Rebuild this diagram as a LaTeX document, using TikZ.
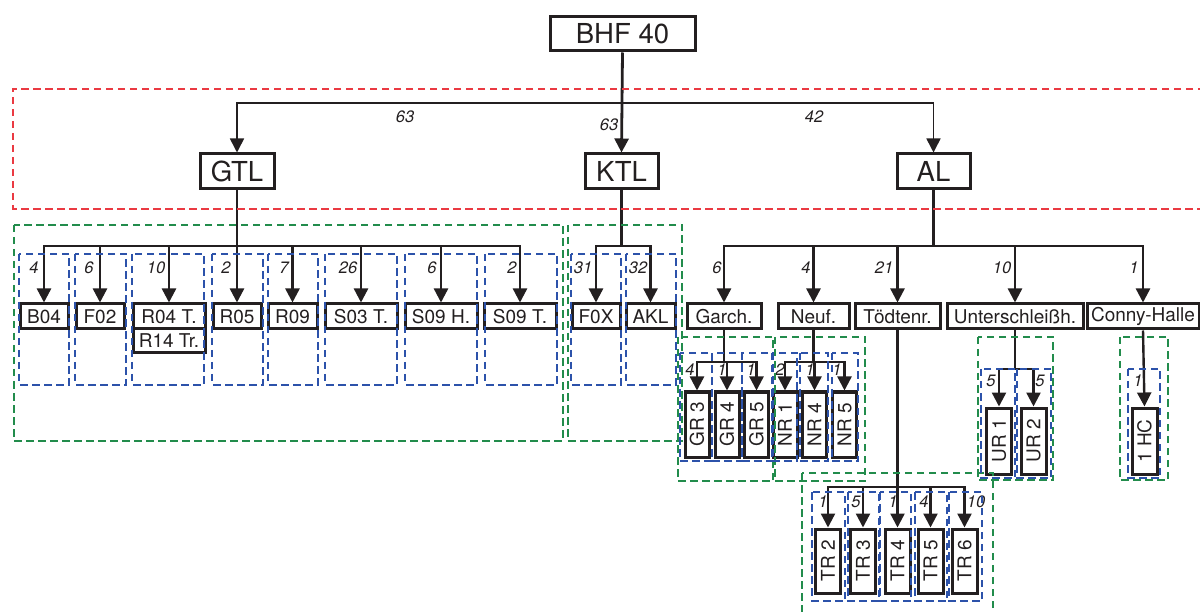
\documentclass[tikz,border=0pt]{standalone}
\usepackage{fontspec}
\setmainfont{TeX Gyre Heros}
\usepackage{graphicx}
\usetikzlibrary{arrows.meta}
\definecolor{ink}{RGB}{35,31,32}
\definecolor{dred}{RGB}{234,58,66}
\definecolor{dgreen}{RGB}{34,140,76}
\definecolor{dblue}{RGB}{44,82,170}
\tikzset{
  box/.style={draw=ink, line width=3pt, inner sep=0pt, text=ink, font=\fontsize{19}{21}\selectfont},
  bigbox/.style={box, font=\fontsize{27.5}{30}\selectfont},
  ln/.style={draw=ink, line width=2.4pt},
  arr/.style={ln, -{Triangle[width=14pt,length=14pt]}},
  arrthin/.style={draw=ink, line width=1.6pt, -{Triangle[width=14pt,length=14pt]}},
  lab/.style={font=\fontsize{16.5}{18}\selectfont\itshape, text=ink, inner sep=0pt},
  rdash/.style={draw=dred, line width=2pt, dash pattern=on 7.5pt off 4.5pt},
  gdash/.style={draw=dgreen, line width=2pt, dash pattern=on 7.5pt off 4.5pt},
  bdash/.style={draw=dblue, line width=2pt, dash pattern=on 7.5pt off 4.5pt},
}
\begin{document}
\begin{tikzpicture}[x=1pt,y=-1pt]
\useasboundingbox (0,0) rectangle (1200,612);

% ---------- nodes ----------
\node[bigbox, minimum width=145pt, minimum height=34pt] (BHF) at (622.5,34) {BHF 40};
\node[bigbox, minimum width=74pt, minimum height=35pt] (GTL) at (237,171.5) {GTL};
\node[bigbox, minimum width=73pt, minimum height=35pt] (KTL) at (621.5,171.5) {KTL};
\node[bigbox, minimum width=73pt, minimum height=35pt] (AL) at (933.5,171.5) {AL};

\node[box, minimum width=48pt, minimum height=25pt] (B04) at (44,316.5) {B04};
\node[box, minimum width=48pt, minimum height=25pt] (F02) at (100,316.5) {F02};
\node[box, minimum width=72pt, minimum height=25pt] (R04) at (169,316.5) {R04 T.};
\node[box, minimum width=72pt, minimum height=24pt] (R14) at (169,341) {R14 Tr.};
\node[box, minimum width=48pt, minimum height=25pt] (R05) at (237,316.5) {R05};
\node[box, minimum width=49pt, minimum height=25pt] (R09) at (292.5,316.5) {R09};
\node[box, minimum width=72pt, minimum height=25pt] (S03) at (361,316.5) {S03 T.};
\node[box, minimum width=72pt, minimum height=25pt] (S09H) at (441,316.5) {S09 H.};
\node[box, minimum width=72pt, minimum height=25pt] (S09T) at (520,316.5) {S09 T.};
\node[box, minimum width=48pt, minimum height=25pt] (F0X) at (596,316.5) {F0X};
\node[box, minimum width=49pt, minimum height=25pt] (AKL) at (650.5,316.5) {AKL};
\node[box, minimum width=74pt, minimum height=25pt] (Garch) at (724,316.5) {Garch.};
\node[box, minimum width=71pt, minimum height=25pt] (Neuf) at (813.5,316.5) {Neuf.};
\node[box, minimum width=85pt, minimum height=25pt] (Toed) at (897.5,316.5) {Tödtenr.};
\node[box, minimum width=136pt, minimum height=25pt] (Unter) at (1015,316.5) {Unterschleißh.};
\node[box, minimum width=112pt, minimum height=25pt] (Conny) at (1143,316.5) {Conny-Halle};

\node[box, minimum width=24pt, minimum height=65pt] (GR3) at (697,424.5) {\rotatebox{90}{GR 3}};
\node[box, minimum width=24pt, minimum height=65pt] (GR4) at (727,424.5) {\rotatebox{90}{GR 4}};
\node[box, minimum width=24pt, minimum height=65pt] (GR5) at (756.5,424.5) {\rotatebox{90}{GR 5}};
\node[box, minimum width=24pt, minimum height=65pt] (NR1) at (785,424.5) {\rotatebox{90}{NR 1}};
\node[box, minimum width=24pt, minimum height=65pt] (NR4) at (814.5,424.5) {\rotatebox{90}{NR 4}};
\node[box, minimum width=24pt, minimum height=65pt] (NR5) at (844.5,424.5) {\rotatebox{90}{NR 5}};

\node[box, minimum width=25pt, minimum height=64pt] (TR2) at (828,561) {\rotatebox{90}{TR 2}};
\node[box, minimum width=25pt, minimum height=64pt] (TR3) at (863,561) {\rotatebox{90}{TR 3}};
\node[box, minimum width=25pt, minimum height=64pt] (TR4) at (897.5,561) {\rotatebox{90}{TR 4}};
\node[box, minimum width=25pt, minimum height=64pt] (TR5) at (930.5,561) {\rotatebox{90}{TR 5}};
\node[box, minimum width=25pt, minimum height=64pt] (TR6) at (964.5,561) {\rotatebox{90}{TR 6}};

\node[box, minimum width=25pt, minimum height=66pt] (UR1) at (999,441) {\rotatebox{90}{UR 1}};
\node[box, minimum width=25pt, minimum height=66pt] (UR2) at (1033.5,441) {\rotatebox{90}{UR 2}};
\node[box, minimum width=25pt, minimum height=66pt] (HC) at (1144.5,441) {\rotatebox{90}{1 HC}};

% ---------- connectors ----------
\coordinate (tj) at (622.5,103);
\draw[arr, line width=2.8pt] (BHF.south) -- (KTL.north);
\draw[arrthin] (tj) -| (GTL.north);
\draw[arrthin] (tj) -| (AL.north);

\coordinate (gj) at (237,246);
\draw[ln, line width=2.8pt] (GTL.south) -- (gj);
\foreach \n in {B04,F02,R04,R05,R09,S03,S09H,S09T}
  \draw[arr] (gj) -| (\n.north);

\coordinate (kj) at (621.5,246);
\draw[ln] (KTL.south) -- (kj);
\foreach \n in {F0X,AKL}
  \draw[arr] (kj) -| (\n.north);

\coordinate (aj) at (933.5,246);
\draw[ln, line width=2.8pt] (AL.south) -- (aj);
\foreach \n in {Garch,Neuf,Toed,Unter,Conny}
  \draw[arr] (aj) -| (\n.north);

\coordinate (gaj) at (724,362);
\draw[ln] (Garch.south) -- (gaj);
\foreach \n in {GR3,GR4,GR5}
  \draw[arr] (gaj) -| (\n.north);

\coordinate (nej) at (813.5,362);
\draw[ln] (Neuf.south) -- (nej);
\foreach \n in {NR1,NR4,NR5}
  \draw[arr] (nej) -| (\n.north);

\coordinate (toj) at (897.5,487);
\draw[ln] (Toed.south) -- (toj);
\foreach \n in {TR2,TR3,TR4,TR5,TR6}
  \draw[arr] (toj) -| (\n.north);

\coordinate (unj) at (1015,369);
\draw[ln] (Unter.south) -- (unj);
\foreach \n in {UR1,UR2}
  \draw[arr] (unj) -| (\n.north);

\draw[arr] (Conny.south) -- (HC.north);

% ---------- labels ----------
\node[lab] (l63a) at (405,117) {63};
\node[lab] (l63b) at (609,125) {63};
\node[lab] (l42) at (814,117) {42};

\foreach \x/\t in {34/4, 89/6, 156/10, 226/2, 284/7, 348/26, 432/6, 512/2, 583/31, 638/32, 717/6, 806/4, 884/21, 1002/10, 1134/1}
  \node[lab] at (\x,268) {\t};
\foreach \x/\t in {690/4, 722/1, 751/1, 780/2, 810/1, 837/1}
  \node[lab] at (\x,370) {\t};
\foreach \x/\t in {823/1, 856/5, 893/1, 924/4, 976/10}
  \node[lab] at (\x,502) {\t};
\foreach \x/\t in {991/5, 1040/5, 1138/1}
  \node[lab] at (\x,381) {\t};

% ---------- dashed group frames ----------
\draw[rdash] (1205,89) -- (13,89) -- (13,209) -- (1205,209);

\draw[gdash] (14,225) rectangle (563,441);
\draw[gdash] (568,225) rectangle (682,441);
\draw[gdash] (678,337) rectangle (773,481);
\draw[gdash] (775,337) rectangle (865,481);
\draw[gdash] (802,473) rectangle (993,625);
\draw[gdash] (978,337) rectangle (1053,480);
\draw[gdash] (1120,337) rectangle (1168,480);

\foreach \a/\b in {19/69, 75/126, 132/204, 212/263, 268/318, 325/397, 405/477, 485/557, 571/621, 626/676}
  \draw[bdash] (\a,254) rectangle (\b,385);
\foreach \a/\b in {680/712, 712/742, 742/773, 772/797, 800/828, 832/858}
  \draw[bdash] (\a,353) rectangle (\b,461);
\foreach \a/\b in {812/845, 848/879, 880/911, 915/947, 949/982}
  \draw[bdash] (\a,492) rectangle (\b,601);
\foreach \a/\b in {981/1015, 1017/1051, 1128/1160}
  \draw[bdash] (\a,369) rectangle (\b,478);
\end{tikzpicture}
\end{document}
